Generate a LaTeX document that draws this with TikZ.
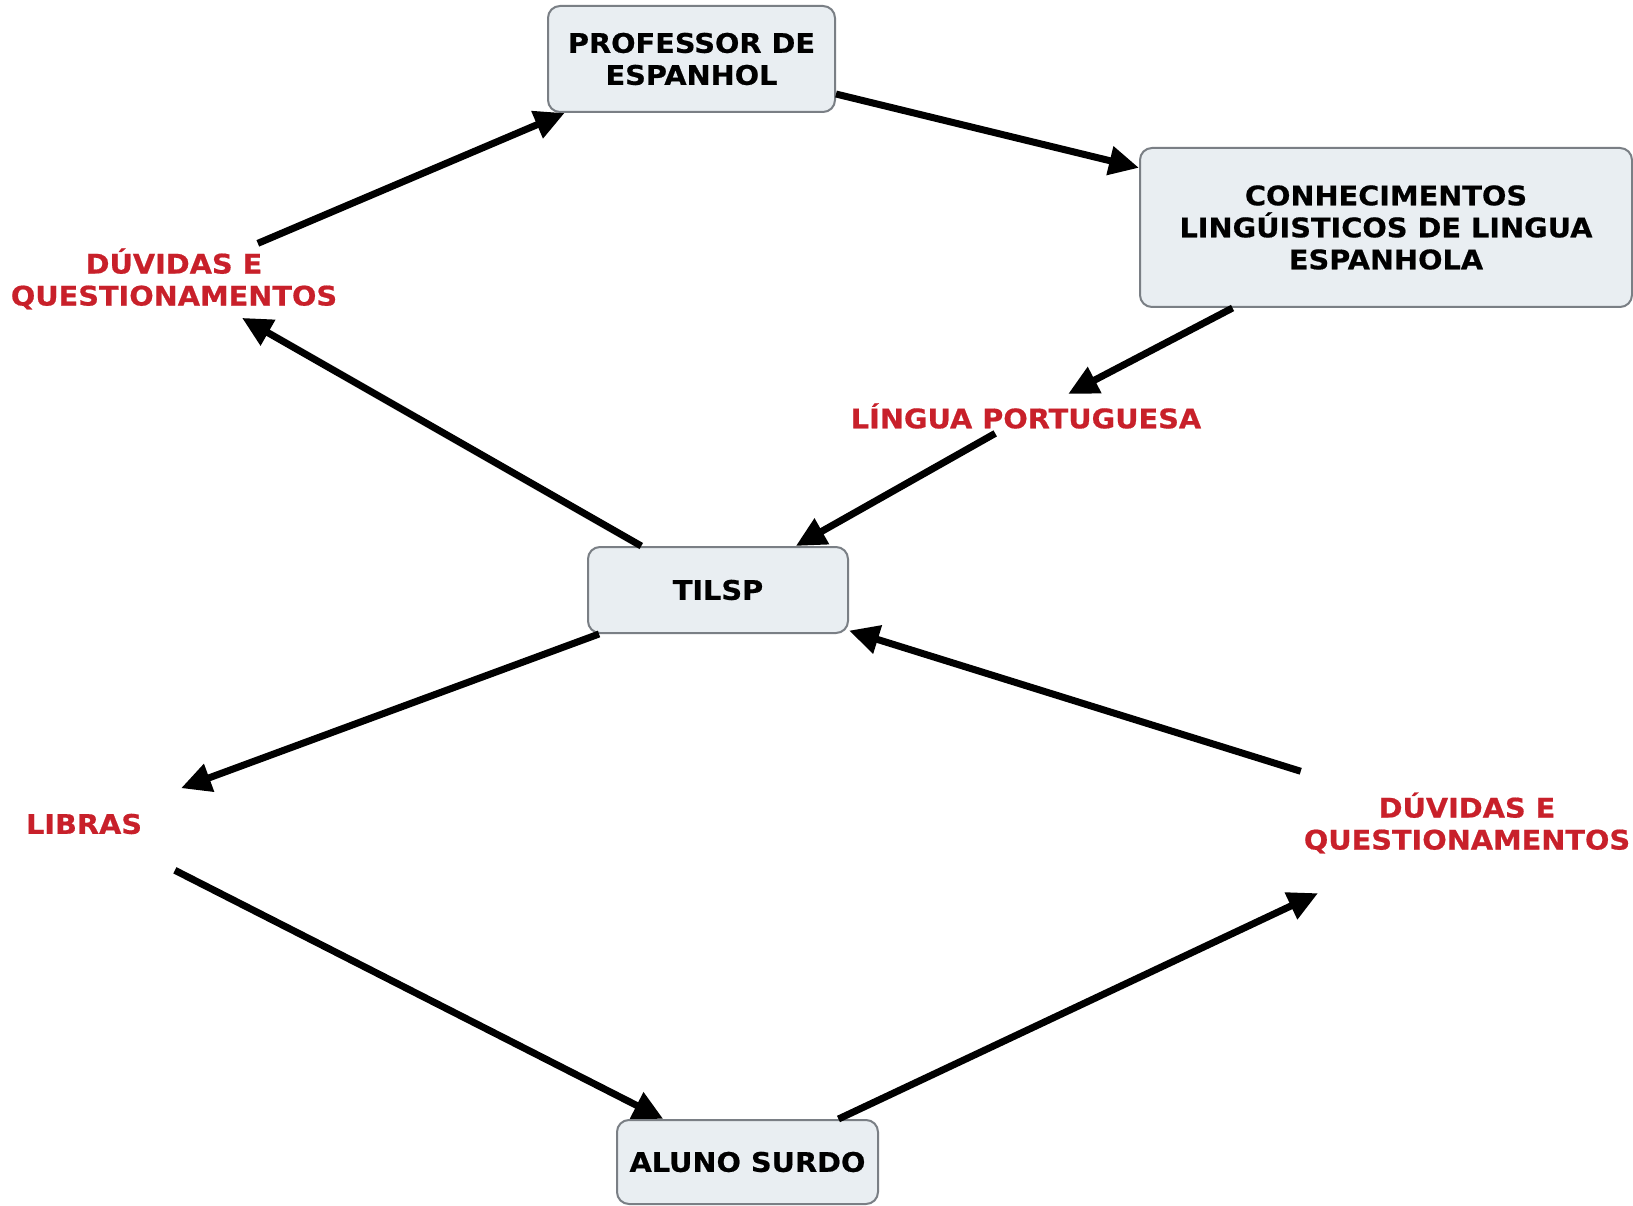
\documentclass[tikz,border=0pt]{standalone}
\usepackage{fontspec}
\setmainfont{DejaVu Sans}
\newfontfamily\vfont{DejaVu Sans Bold}[FakeStretch=1.065,FakeBold=0.6]
\usetikzlibrary{arrows.meta,calc}
\definecolor{boxfill}{HTML}{E9EEF2}
\definecolor{boxline}{HTML}{7A7F85}
\definecolor{lblred}{HTML}{C8202A}
\begin{document}
\begin{tikzpicture}[x=1pt,y=-1pt,
  concept/.style={draw=boxline,line width=2pt,fill=boxfill,rounded corners=12pt,
    align=center,font=\fontsize{27}{32}\vfont,text=black,inner sep=0pt},
  lbl/.style={align=center,font=\fontsize{27}{32}\vfont,text=lblred,inner sep=0pt},
  link/.style={line width=7pt,draw=black,-{Triangle[length=30pt,width=28pt]}}]
\useasboundingbox (0,0) rectangle (1633,1206);
\fill[white] (0,0) rectangle (1633,1206);
\node[concept,minimum width=287pt,minimum height=106pt] (prof) at (691.5,59) {PROFESSOR DE\\ESPANHOL};
\node[concept,minimum width=492pt,minimum height=159pt] (conh) at (1386,227.5) {CONHECIMENTOS\\LINGÚISTICOS DE LINGUA\\ESPANHOLA};
\node[concept,minimum width=260pt,minimum height=86pt] (tilsp) at (718,590) {TILSP};
\node[concept,minimum width=261pt,minimum height=84pt] (aluno) at (747.5,1162) {ALUNO SURDO};
\node[lbl] (dl) at (174,279) {DÚVIDAS E\\QUESTIONAMENTOS};
\node[lbl] (lp) at (1026,416) {LÍNGUA PORTUGUESA};
\node[lbl] (libras) at (84,824) {LIBRAS};
\node[lbl] (dr) at (1467,823) {DÚVIDAS E\\QUESTIONAMENTOS};
\draw[link] ($(dl)!0.162!(prof)$) -- (prof);
\draw[link] (prof) -- (conh);
\draw[link] (conh) -- ($(conh)!0.883!(lp)$);
\draw[link] ($(lp)!0.10!(tilsp)$) -- (tilsp);
\draw[link] (tilsp) -- ($(tilsp)!0.875!(dl)$);
\draw[link] (tilsp) -- ($(tilsp)!0.847!(libras)$);
\draw[link] ($(libras)!0.137!(aluno)$) -- (aluno);
\draw[link] (aluno) -- ($(aluno)!0.793!(dr)$);
\draw[link] ($(dr)!0.222!(tilsp)$) -- (tilsp);
\end{tikzpicture}
\end{document}
